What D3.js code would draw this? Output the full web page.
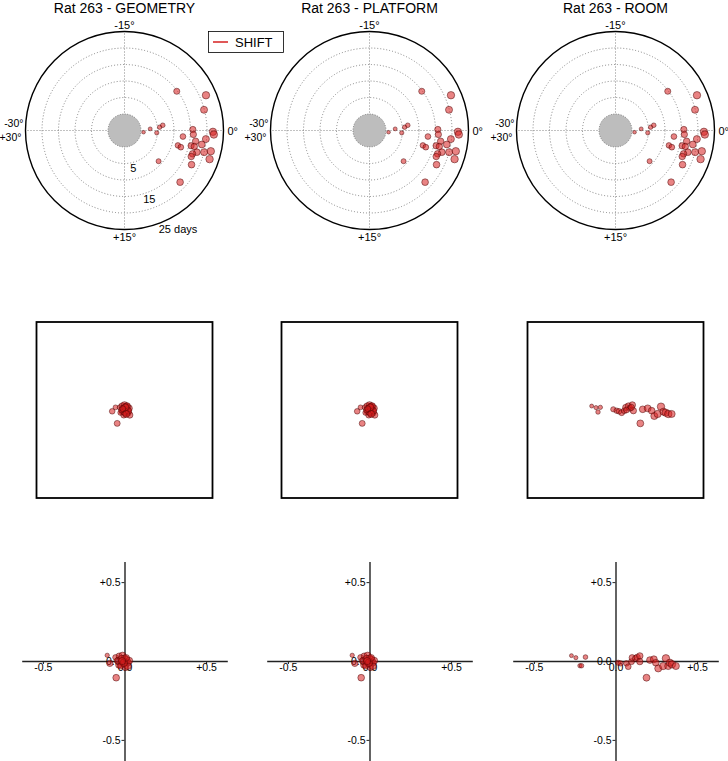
<!DOCTYPE html>
<html><head><meta charset="utf-8">
<script src="https://cdn.jsdelivr.net/npm/d3@7"></script>
<style>
html,body{margin:0;padding:0;background:#fff;}
svg{display:block;}
text{font-family:"Liberation Sans",Arial,sans-serif;fill:#000;}
</style></head>
<body>
<svg id="chart" width="728" height="761"></svg>
<script>
// ---------- DATA ----------
const panels = ["Rat 263 - GEOMETRY", "Rat 263 - PLATFORM", "Rat 263 - ROOM"];
const legendLabel = "SHIFT";

// polar panels (identical for the three conditions): angle in degrees, radius in days
const polarAngle = [-6.15, -3.9, -2.43, 0.85, -0.6, 0.7, -0.9, -1.3, -0.14, 0.55, 0.14, 0.43, 1.0, 0.98, 1.43,
  2.6, 2.75, 2.15, 2.15, 1.71, 2.78, 2.54, 2.25, 3.1, 3.15, 3.55, 4.5, 7.0, 7.15];
const polarDay = [14.8, 21.9, 19.9, 0.8, 2.8, 4.8, 5.7, 6.7, 15.7, 15.9, 21.8, 22.1, 19.8, 12.8, 16.8,
  11.8, 12.8, 15.7, 16.7, 18.8, 17.9, 20.0, 21.9, 22.2, 16.8, 16.7, 17.8, 8.9, 18.0];
const ringDays = [5, 10, 15, 20];
const outerDay = 25;
const ringLabels = ["5", "15", "25 days"];
const angleLabels = ["-15°", "0°", "+15°", "-30°", "+30°"];

// middle row (arena), GEOMETRY/PLATFORM and ROOM
const arenaGeoX = [-0.14, -0.083, -0.102, -0.053, -0.027, 0.0, 0.023, -0.008, 0.03, -0.027, 0.011, 0.038, -0.008,
  -0.045, 0.049, 0.06, 0.015, -0.015, 0.03, 0.0, 0.045, -0.035, 0.02, 0.008, -0.02];
const arenaGeoY = [-0.015, -0.152, 0.03, 0.03, 0.045, 0.057, 0.038, 0.008, 0.0, -0.019, -0.038, -0.03, -0.057,
  -0.03, 0.019, -0.057, 0.025, 0.01, 0.045, -0.02, -0.01, 0.0, -0.045, 0.03, 0.015];
const arenaGeoDay = [12, 14, 8, 10, 16, 18, 20, 22, 21, 13, 17, 19, 15, 11, 20, 16, 22, 9, 18, 21, 17, 12, 19, 20, 14];

const arenaRoomX = [-0.271, -0.222, -0.172, -0.199, -0.025, 0.013, 0.04, 0.07, 0.1, 0.116, 0.146, 0.165, 0.191,
  0.203, 0.309, 0.366, 0.411, 0.441, 0.479, 0.517, 0.544, 0.57, 0.6, 0.638, 0.282, 0.125, 0.18];
const arenaRoomY = [0.045, 0.027, 0.03, -0.023, 0.008, -0.008, -0.015, -0.03, -0.008, 0.03, 0.045, 0.019, 0.057,
  -0.008, 0.008, 0.019, -0.008, -0.068, -0.045, 0.038, -0.019, -0.03, -0.045, -0.045, -0.152, 0.0, 0.03];
const arenaRoomDay = [3, 4, 5, 6, 10, 11, 12, 14, 13, 15, 16, 14, 17, 16, 18, 19, 18, 20, 21, 22, 20, 21, 22, 20, 19, 13, 15];

// bottom row (shift vectors)
const shiftGeoX = [-0.106, -0.09, -0.051, -0.055, -0.033, -0.025, -0.012, 0.0, 0.012, 0.02, -0.008, -0.035, 0.006,
  0.02, -0.045, -0.018, 0.029, -0.025, -0.004, 0.01, -0.015];
const shiftGeoY = [0.036, -0.015, -0.106, 0.023, 0.032, -0.004, 0.034, 0.015, 0.006, -0.011, -0.021, -0.025, -0.04,
  -0.032, 0.002, 0.013, 0.002, -0.032, -0.011, 0.02, 0.0];
const shiftGeoDay = [5, 16, 18, 12, 14, 15, 20, 21, 22, 19, 17, 16, 18, 20, 13, 21, 19, 14, 22, 18, 20];

const shiftRoomX = [-0.27, -0.243, -0.218, -0.208, -0.184, 0.016, 0.031, 0.067, 0.078, 0.098, 0.102, 0.123, 0.133,
  0.149, 0.149, 0.211, 0.235, 0.247, 0.262, 0.292, 0.309, 0.323, 0.333, 0.346, 0.37, 0.19];
const shiftRoomY = [0.034, 0.021, -0.03, -0.03, 0.025, -0.011, -0.015, -0.015, -0.036, -0.004, 0.021, 0.017, 0.023,
  0.032, -0.004, 0.006, 0.011, -0.011, -0.047, -0.032, 0.017, -0.032, -0.011, -0.021, -0.032, -0.106];
const shiftRoomDay = [3, 4, 5, 6, 7, 10, 11, 12, 13, 14, 15, 15, 16, 17, 16, 18, 19, 18, 20, 21, 22, 20, 21, 22, 20, 19];

const axisTicks = [-0.5, 0, 0.5];

// ---------- DRAWING ----------
const svg = d3.select("#chart");
const centers = [124.5, 369.5, 615.5];
const fillCol = "rgb(215,30,30)";

const sizeScale = d3.scaleLinear().domain([0, 25]).range([1.7, 4.0]);
const rScale = d3.scaleLinear().domain([0, outerDay]).range([16.5, 99]);
const aScale = d3.scaleLinear().domain([-30, 30]).range([-Math.PI, Math.PI]);

function dots(g, pts) {
  g.selectAll("circle.pt").data(pts).enter().append("circle")
    .attr("class", "pt")
    .attr("cx", d => d.x).attr("cy", d => d.y).attr("r", d => d.r)
    .attr("fill", fillCol).attr("fill-opacity", 0.55)
    .attr("stroke", "#400").attr("stroke-opacity", 0.6).attr("stroke-width", 0.8);
}

panels.forEach((title, i) => {
  const cx = centers[i];
  // title
  svg.append("text").attr("x", cx).attr("y", 13).attr("text-anchor", "middle")
    .style("font-size", "14px").text(title);

  // ---- polar ----
  const cy = 130.5;
  const g = svg.append("g").attr("transform", `translate(${cx},${cy})`);
  ringDays.forEach(d => {
    g.append("circle").attr("r", rScale(d)).attr("fill", "none")
      .attr("stroke", "#777").attr("stroke-width", 0.9).attr("stroke-dasharray", "1,2");
  });
  [0, 90, 180, 270].forEach(a => {
    const t = a * Math.PI / 180;
    g.append("line").attr("x1", 0).attr("y1", 0)
      .attr("x2", rScale(outerDay) * Math.cos(t)).attr("y2", rScale(outerDay) * Math.sin(t))
      .attr("stroke", "#777").attr("stroke-width", 0.9).attr("stroke-dasharray", "1,2");
  });
  g.append("circle").attr("r", rScale(0)).attr("fill", "#bdbdbd")
    .attr("stroke", "#666").attr("stroke-width", 0.8).attr("stroke-dasharray", "1,1.5");
  g.append("circle").attr("r", rScale(outerDay)).attr("fill", "none")
    .attr("stroke", "#000").attr("stroke-width", 1.4);

  const pts = polarAngle.map((a, k) => {
    const rr = rScale(polarDay[k]), t = aScale(a);
    return {x: rr * Math.cos(t), y: rr * Math.sin(t), r: sizeScale(polarDay[k])};
  });
  dots(g, pts);

  const R = rScale(outerDay);
  const lab = (txt, x, y, anchor, fs) => g.append("text").attr("x", x).attr("y", y)
    .attr("text-anchor", anchor).style("font-size", (fs || 11) + "px").text(txt);
  lab(angleLabels[0], 0, -R - 3, "middle");
  lab(angleLabels[1], R + 4, 4, "start");
  lab(angleLabels[2], 0, R + 11, "middle");
  lab(angleLabels[3], -R - 2, -3.5, "end", 10.5);
  lab(angleLabels[4], -R - 4, 10, "end", 10.5);

  if (i === 0) {
    const off = [[8.8, 41.5], [24.8, 72.5], [53.5, 102.5]];
    ringLabels.forEach((t, k) => lab(t, off[k][0], off[k][1], "middle"));
  }

  // ---- middle arena square ----
  const half = 88, acy = 410;
  const ax = d3.scaleLinear().domain([-1, 1]).range([cx - half, cx + half]);
  const ay = d3.scaleLinear().domain([-1, 1]).range([acy + half, acy - half]);
  svg.append("rect").attr("x", cx - half).attr("y", acy - half).attr("width", 2 * half).attr("height", 2 * half)
    .attr("fill", "none").attr("stroke", "#000").attr("stroke-width", 1.8);
  const AX = i === 2 ? arenaRoomX : arenaGeoX, AY = i === 2 ? arenaRoomY : arenaGeoY, AD = i === 2 ? arenaRoomDay : arenaGeoDay;
  dots(svg.append("g"), AX.map((x, k) => ({x: ax(x), y: ay(AY[k]), r: sizeScale(AD[k])})));

  // ---- bottom axes ----
  const bcy = 661, hx = 102.8;
  const bx = d3.scaleLinear().domain([-0.63, 0.63]).range([cx - hx, cx + hx]);
  const by = d3.scaleLinear().domain([-0.63, 0.63]).range([bcy + 99.4, bcy - 99.4]);
  const fmt = v => v === 0 ? "0.0" : (v > 0 ? "+" : "") + v.toFixed(1);
  const xa = svg.append("g").attr("transform", `translate(0,${bcy})`)
    .call(d3.axisBottom(bx).tickValues(axisTicks).tickFormat(fmt).tickSize(3).tickSizeOuter(0));
  const ya = svg.append("g").attr("transform", `translate(${bx(0)},0)`)
    .call(d3.axisLeft(by).tickValues(axisTicks).tickFormat(fmt).tickSize(3).tickSizeOuter(0));
  [xa, ya].forEach(a => {
    a.select(".domain").attr("stroke", "#222").attr("stroke-width", 1.4);
    a.selectAll(".tick line").attr("stroke", "#222");
    a.selectAll("text").style("font-family", '"Liberation Sans",Arial,sans-serif').style("font-size", "10.5px").attr("fill", "#000");
  });
  xa.selectAll(".tick text").attr("dy", "0.6em").attr("y", 4);
  ya.selectAll(".tick text").attr("x", -4);

  const SX = i === 2 ? shiftRoomX : shiftGeoX, SY = i === 2 ? shiftRoomY : shiftGeoY, SD = i === 2 ? shiftRoomDay : shiftGeoDay;
  dots(svg.append("g"), SX.map((x, k) => ({x: bx(x), y: by(SY[k]), r: sizeScale(SD[k])})));
});

// legend
const lg = svg.append("g");
lg.append("rect").attr("x", 208.5).attr("y", 31.5).attr("width", 75).attr("height", 21)
  .attr("fill", "#fff").attr("stroke", "#000").attr("stroke-width", 0.8);
lg.append("line").attr("x1", 213).attr("x2", 228).attr("y1", 42).attr("y2", 42)
  .attr("stroke", "#d62020").attr("stroke-width", 1.5);
lg.append("text").attr("x", 235).attr("y", 47).style("font-size", "13px").text(legendLabel);
</script>
</body></html>
